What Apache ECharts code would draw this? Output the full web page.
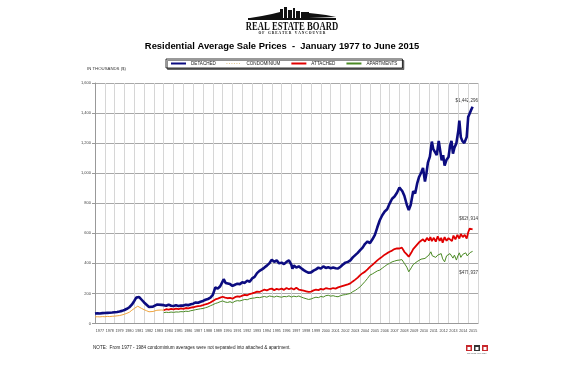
<!DOCTYPE html>
<html><head><meta charset="utf-8">
<script src="https://cdn.jsdelivr.net/npm/echarts@6/dist/echarts.min.js"></script>
<style>html,body{margin:0;padding:0;background:#fff}#c{width:566px;height:377px}</style>
</head><body><div id="c"></div>
<script>
// ---- data (time in fractional years, values in thousands $) ----
const yearLabels = [];
for (let y = 1977; y <= 2015; y++) yearLabels.push(String(y));
const yTicks = [0, 200, 400, 600, 800, 1000, 1200, 1400, 1600];

const detached = [
[1977.0,66],[1977.25,68],[1977.5,67],[1977.75,69],
[1978.0,70],[1978.25,71],[1978.5,72],[1978.75,73],
[1979.0,75],[1979.25,77],[1979.5,80],[1979.75,84],
[1980.0,90],[1980.25,98],[1980.5,108],[1980.75,125],
[1981.0,150],[1981.2,172],[1981.35,180],[1981.5,176],[1981.75,158],
[1982.0,140],[1982.25,125],[1982.5,110],[1982.7,104],[1982.9,112],
[1983.1,122],[1983.3,126],[1983.5,120],[1983.75,124],
[1984.0,122],[1984.25,118],[1984.5,126],[1984.75,118],
[1985.0,116],[1985.25,121],[1985.5,117],[1985.75,120],
[1986.0,119],[1986.25,124],[1986.5,122],[1986.75,128],
[1987.0,132],[1987.25,140],[1987.5,138],[1987.75,145],
[1988.0,150],[1988.25,158],[1988.5,163],[1988.75,172],
[1989.0,190],[1989.25,240],[1989.5,232],[1989.75,248],
[1990.0,280],[1990.1,295],[1990.3,270],[1990.5,258],[1990.75,262],
[1991.0,250],[1991.25,258],[1991.5,265],[1991.75,262],
[1992.0,275],[1992.25,270],[1992.5,285],[1992.75,278],
[1993.0,300],[1993.25,310],[1993.5,335],[1993.75,350],
[1994.0,360],[1994.25,372],[1994.5,385],[1994.75,400],
[1995.0,425],[1995.1,433],[1995.25,410],[1995.5,420],[1995.75,400],
[1996.0,405],[1996.25,395],[1996.5,410],[1996.75,420],
[1997.0,390],[1997.1,365],[1997.25,385],[1997.5,372],[1997.75,380],
[1998.0,368],[1998.25,355],[1998.5,345],[1998.75,338],
[1999.0,340],[1999.25,352],[1999.5,360],[1999.75,372],
[2000.0,365],[2000.25,380],[2000.5,370],[2000.75,375],
[2001.0,368],[2001.25,372],[2001.5,368],[2001.75,366],
[2002.0,378],[2002.25,392],[2002.5,405],[2002.75,410],
[2003.0,420],[2003.25,440],[2003.5,455],[2003.75,470],
[2004.0,488],[2004.25,505],[2004.5,530],[2004.75,545],
[2005.0,535],[2005.25,560],[2005.5,590],[2005.75,640],
[2006.0,687],[2006.25,720],[2006.5,745],[2006.75,760],
[2007.0,798],[2007.25,830],[2007.5,845],[2007.75,870],
[2008.0,905],[2008.15,915],[2008.3,880],[2008.5,850],[2008.75,790],
[2008.95,754],[2009.15,790],[2009.4,880],[2009.6,865],[2009.8,930],
[2010.0,975],[2010.25,1010],[2010.4,1035],[2010.6,945],[2010.75,1000],
[2010.9,1070],[2011.1,1110],[2011.3,1210],[2011.45,1160],[2011.6,1170],[2011.8,1120],
[2012.0,1215],[2012.15,1150],[2012.3,1085],[2012.45,1120],[2012.6,1050],[2012.8,1090],
[2013.0,1108],[2013.15,1180],[2013.3,1215],[2013.45,1130],[2013.6,1170],[2013.8,1200],
[2014.0,1285],[2014.1,1350],[2014.25,1240],[2014.4,1215],[2014.6,1200],[2014.75,1196],
[2014.85,1240],[2015.0,1373],[2015.15,1385],[2015.3,1420],[2015.45,1442]
];

const condominium = [
[1977.0,44],[1977.25,45],[1977.5,44],[1977.75,46],
[1978.0,45],[1978.25,47],[1978.5,46],[1978.75,48],
[1979.0,49],[1979.25,51],[1979.5,53],[1979.75,57],
[1980.0,62],[1980.25,68],[1980.5,75],[1980.75,88],
[1981.0,100],[1981.2,112],[1981.35,115],[1981.5,110],[1981.75,100],
[1982.0,92],[1982.25,85],[1982.5,78],[1982.7,75],[1982.9,80],
[1983.1,85],[1983.3,88],[1983.5,86],[1983.75,90],[1984.0,88]
];

const attached = [
[1984.0,88],[1984.25,95],[1984.5,92],[1984.75,97],
[1985.0,94],[1985.25,99],[1985.5,96],[1985.75,100],
[1986.0,98],[1986.25,103],[1986.5,101],[1986.75,106],
[1987.0,108],[1987.25,112],[1987.5,115],[1987.75,118],
[1988.0,122],[1988.25,128],[1988.5,132],[1988.75,140],
[1989.0,150],[1989.25,160],[1989.5,165],[1989.75,172],
[1990.0,178],[1990.25,172],[1990.5,168],[1990.75,170],
[1991.0,165],[1991.25,175],[1991.5,180],[1991.75,178],
[1992.0,185],[1992.25,190],[1992.5,188],[1992.75,196],
[1993.0,200],[1993.25,205],[1993.5,212],[1993.75,210],
[1994.0,218],[1994.25,225],[1994.5,220],[1994.75,228],
[1995.0,232],[1995.25,222],[1995.5,230],[1995.75,226],
[1996.0,232],[1996.25,224],[1996.5,236],[1996.75,228],
[1997.0,235],[1997.25,226],[1997.5,238],[1997.75,226],
[1998.0,222],[1998.25,218],[1998.5,214],[1998.75,210],
[1999.0,212],[1999.25,220],[1999.5,225],[1999.75,222],
[2000.0,230],[2000.25,226],[2000.5,235],[2000.75,232],
[2001.0,230],[2001.25,236],[2001.5,232],[2001.75,240],
[2002.0,245],[2002.25,250],[2002.5,255],[2002.75,260],
[2003.0,267],[2003.25,280],[2003.5,292],[2003.75,305],
[2004.0,322],[2004.25,335],[2004.5,345],[2004.75,360],
[2005.0,377],[2005.25,390],[2005.5,405],[2005.75,420],
[2006.0,433],[2006.25,445],[2006.5,458],[2006.75,468],
[2007.0,477],[2007.25,485],[2007.5,495],[2007.75,500],
[2008.0,499],[2008.25,505],[2008.5,477],[2008.75,460],
[2008.95,444],[2009.2,470],[2009.4,495],[2009.6,510],[2009.8,525],
[2010.0,540],[2010.2,530],[2010.4,560],[2010.6,545],[2010.8,570],
[2011.0,552],[2011.15,575],[2011.3,548],[2011.5,570],[2011.7,545],
[2011.9,580],[2012.1,550],[2012.25,570],[2012.4,538],[2012.6,575],[2012.8,550],
[2013.0,568],[2013.2,580],[2013.35,548],[2013.5,585],[2013.7,560],
[2013.9,590],[2014.1,565],[2014.25,595],[2014.45,575],[2014.65,590],[2014.85,565],
[2015.0,605],[2015.15,632],[2015.3,640],[2015.45,627]
];

const apartments = [
[1984.0,72],[1984.25,75],[1984.5,73],[1984.75,76],
[1985.0,74],[1985.25,77],[1985.5,76],[1985.75,79],
[1986.0,78],[1986.25,82],[1986.5,80],[1986.75,85],
[1987.0,88],[1987.25,92],[1987.5,95],[1987.75,98],
[1988.0,100],[1988.25,105],[1988.5,110],[1988.75,118],
[1989.0,125],[1989.25,133],[1989.5,138],[1989.75,145],
[1990.0,150],[1990.25,143],[1990.5,140],[1990.75,145],
[1991.0,138],[1991.25,148],[1991.5,152],[1991.75,150],
[1992.0,155],[1992.25,160],[1992.5,158],[1992.75,165],
[1993.0,168],[1993.25,170],[1993.5,174],[1993.75,172],
[1994.0,176],[1994.25,180],[1994.5,175],[1994.75,183],
[1995.0,180],[1995.25,176],[1995.5,182],[1995.75,178],
[1996.0,175],[1996.25,180],[1996.5,178],[1996.75,184],
[1997.0,176],[1997.25,182],[1997.5,178],[1997.75,183],
[1998.0,176],[1998.25,170],[1998.5,165],[1998.75,160],
[1999.0,163],[1999.25,170],[1999.5,175],[1999.75,172],
[2000.0,180],[2000.25,176],[2000.5,185],[2000.75,188],
[2001.0,182],[2001.25,185],[2001.5,180],[2001.75,178],
[2002.0,185],[2002.25,190],[2002.5,192],[2002.75,196],
[2003.0,200],[2003.25,212],[2003.5,220],[2003.75,232],
[2004.0,244],[2004.25,262],[2004.5,280],[2004.75,300],
[2005.0,322],[2005.1,310],[2005.25,330],[2005.5,340],[2005.75,350],
[2006.0,355],[2006.25,368],[2006.5,380],[2006.75,392],
[2007.0,400],[2007.25,410],[2007.5,415],[2007.75,420],
[2008.0,422],[2008.25,425],[2008.5,400],[2008.75,375],
[2008.95,344],[2009.2,370],[2009.4,392],[2009.6,400],[2009.8,412],
[2010.0,420],[2010.2,428],[2010.4,425],[2010.6,433],[2010.8,440],
[2011.0,455],[2011.2,477],[2011.35,450],[2011.5,460],[2011.7,440],[2011.9,455],
[2012.1,444],[2012.25,465],[2012.4,430],[2012.6,410],[2012.8,450],
[2013.0,440],[2013.15,465],[2013.3,477],[2013.45,435],[2013.6,455],[2013.8,422],
[2013.95,450],[2014.1,470],[2014.25,440],[2014.45,460],[2014.6,455],[2014.75,470],
[2014.9,450],[2015.05,462],[2015.2,472],[2015.35,478],[2015.45,480]
];

const seriesNames = ['DETACHED', 'CONDOMINIUM', 'ATTACHED', 'APARTMENTS'];
const endLabels = ['$1,442,296', '$626,914', '$479,937'];
const titleText = 'Residential Average Sale Prices  -  January 1977 to June 2015';
const noteText = 'NOTE:  From 1977 - 1984 condominium averages were not separated into attached & apartment.';

// ---- chart ----
const chart = echarts.init(document.getElementById('c'), null, {renderer: 'canvas'});
const F = 'Liberation Sans, Arial, sans-serif';
const GL = 95, GR = 478, GT = 83, GB = 323.5;
const ink = '#111';

const option = {
  animation: false,
  backgroundColor: '#fff',
  textStyle: {fontFamily: F},
  grid: {left: GL, right: 566 - GR, top: GT, bottom: 377 - GB, containLabel: false},
  legend: {
    left: 166, top: 59,
    padding: [2, 5, 2, 4],
    itemWidth: 15, itemHeight: 4, itemGap: 10,
    borderColor: '#000', borderWidth: 0.8,
    backgroundColor: '#fff',
    shadowColor: 'rgba(0,0,0,0.55)', shadowOffsetX: 1.5, shadowOffsetY: 1.5, shadowBlur: 0,
    itemStyle: {opacity: 0},
    textStyle: {fontSize: 4.6, color: '#222', fontFamily: F},
    data: [
      {name: seriesNames[0]},
      {name: seriesNames[1], lineStyle: {type: [1, 1.5], color: '#e0c48c', width: 1}},
      {name: seriesNames[2]},
      {name: seriesNames[3]}
    ]
  },
  xAxis: [
    {
      type: 'value', min: 1977, max: 2016, interval: 1,
      axisLine: {show: true, lineStyle: {color: '#999', width: 1}},
      axisTick: {show: false},
      axisLabel: {show: false},
      splitLine: {show: true, lineStyle: {color: '#d6d6d6', width: 1}}
    },
    {
      type: 'category', data: yearLabels, boundaryGap: true, position: 'bottom',
      axisLine: {show: false}, axisTick: {show: false},
      axisLabel: {interval: 0, fontSize: 3.7, color: '#444', margin: 5, fontFamily: F},
      splitLine: {show: false}
    }
  ],
  yAxis: {
    type: 'value', min: yTicks[0], max: yTicks[yTicks.length - 1], interval: 200,
    axisLine: {show: true, lineStyle: {color: '#999'}},
    axisTick: {show: true, length: 3, lineStyle: {color: '#999'}},
    axisLabel: {fontSize: 4, color: '#444', margin: 4, fontFamily: F},
    splitLine: {show: true, lineStyle: {color: '#a8a8a8', width: 1}}
  },
  series: [
    {name: seriesNames[0], type: 'line', data: detached, showSymbol: false, symbol: 'none',
     lineStyle: {color: '#0c0c80', width: 2.6}, itemStyle: {color: '#0c0c80'}, z: 5},
    {name: seriesNames[1], type: 'line', data: condominium, showSymbol: false, symbol: 'none',
     lineStyle: {color: '#f0a43c', width: 1}, itemStyle: {color: '#e8c890'}, z: 3},
    {name: seriesNames[2], type: 'line', data: attached, showSymbol: false, symbol: 'none',
     lineStyle: {color: '#e00000', width: 1.8}, itemStyle: {color: '#e00000'}, z: 4},
    {name: seriesNames[3], type: 'line', data: apartments, showSymbol: false, symbol: 'none',
     lineStyle: {color: '#4a8a24', width: 1}, itemStyle: {color: '#4a8a24'}, z: 4}
  ],
  graphic: [
    // logo skyline
    {type: 'rect', shape: {x: 248, y: 18, width: 88, height: 2}, style: {fill: ink}},
    {type: 'polygon', shape: {points: [[250,18],[262,16],[272,14],[280,12],[280,18]]}, style: {fill: ink}},
    {type: 'rect', shape: {x: 280, y: 9, width: 3, height: 9}, style: {fill: ink}},
    {type: 'rect', shape: {x: 284, y: 7, width: 3, height: 11}, style: {fill: ink}},
    {type: 'rect', shape: {x: 288, y: 10, width: 4, height: 8}, style: {fill: ink}},
    {type: 'rect', shape: {x: 293, y: 8, width: 2, height: 10}, style: {fill: ink}},
    {type: 'rect', shape: {x: 296, y: 11, width: 4, height: 7}, style: {fill: ink}},
    {type: 'rect', shape: {x: 301, y: 12, width: 8, height: 6}, style: {fill: ink}},
    {type: 'polygon', shape: {points: [[309,13],[318,14],[326,15],[336,17],[309,18]]}, style: {fill: ink}},
    {type: 'text', x: 292, y: 26.5, scaleX: 0.72, originX: 0, originY: 0,
     style: {text: 'REAL ESTATE BOARD', font: 'bold 12px "Liberation Serif", serif', fill: ink, align: 'center', verticalAlign: 'middle'}},
    {type: 'text', x: 292, y: 33.5,
     style: {text: 'O F    G R E A T E R    V A N C O U V E R', font: 'bold 3.6px "Liberation Serif", serif', fill: ink, align: 'center', verticalAlign: 'middle'}},
    {type: 'text', x: 282, y: 46, style: {text: titleText, font: 'bold 9.4px "Liberation Sans", Arial, sans-serif', fill: '#000', align: 'center', verticalAlign: 'middle'}},
    {type: 'text', x: 87, y: 69, style: {text: 'IN THOUSANDS ($)', font: '4.3px "Liberation Sans", Arial, sans-serif', fill: '#333', verticalAlign: 'middle'}},
    {type: 'text', x: 478, y: 101, style: {text: endLabels[0], font: '4.5px "Liberation Sans", Arial, sans-serif', fill: '#333', align: 'right', verticalAlign: 'middle'}},
    {type: 'text', x: 478, y: 219, style: {text: endLabels[1], font: '4.5px "Liberation Sans", Arial, sans-serif', fill: '#333', align: 'right', verticalAlign: 'middle'}},
    {type: 'text', x: 478, y: 273, style: {text: endLabels[2], font: '4.5px "Liberation Sans", Arial, sans-serif', fill: '#333', align: 'right', verticalAlign: 'middle'}},
    {type: 'text', x: 93, y: 348, style: {text: noteText, font: '4.6px "Liberation Sans", Arial, sans-serif', fill: '#222', verticalAlign: 'middle'}},
    // small icons bottom-right
    {type: 'rect', shape: {x: 466, y: 345, width: 6, height: 6}, style: {fill: '#c8282c'}},
    {type: 'rect', shape: {x: 474, y: 345, width: 6, height: 6}, style: {fill: '#333'}},
    {type: 'rect', shape: {x: 482, y: 345, width: 6, height: 6}, style: {fill: '#c8282c'}},
    {type: 'rect', shape: {x: 467.5, y: 347, width: 3, height: 3}, style: {fill: '#fff'}},
    {type: 'rect', shape: {x: 475.5, y: 347, width: 3, height: 3}, style: {fill: '#fff'}},
    {type: 'rect', shape: {x: 483.5, y: 347, width: 3, height: 3}, style: {fill: '#fff'}},
    {type: 'text', x: 477, y: 353.5, style: {text: 'REALTOR MLS CREA', font: '2px sans-serif', fill: '#555', align: 'center', verticalAlign: 'middle'}}
  ]
};
chart.setOption(option);
</script>
</body></html>
